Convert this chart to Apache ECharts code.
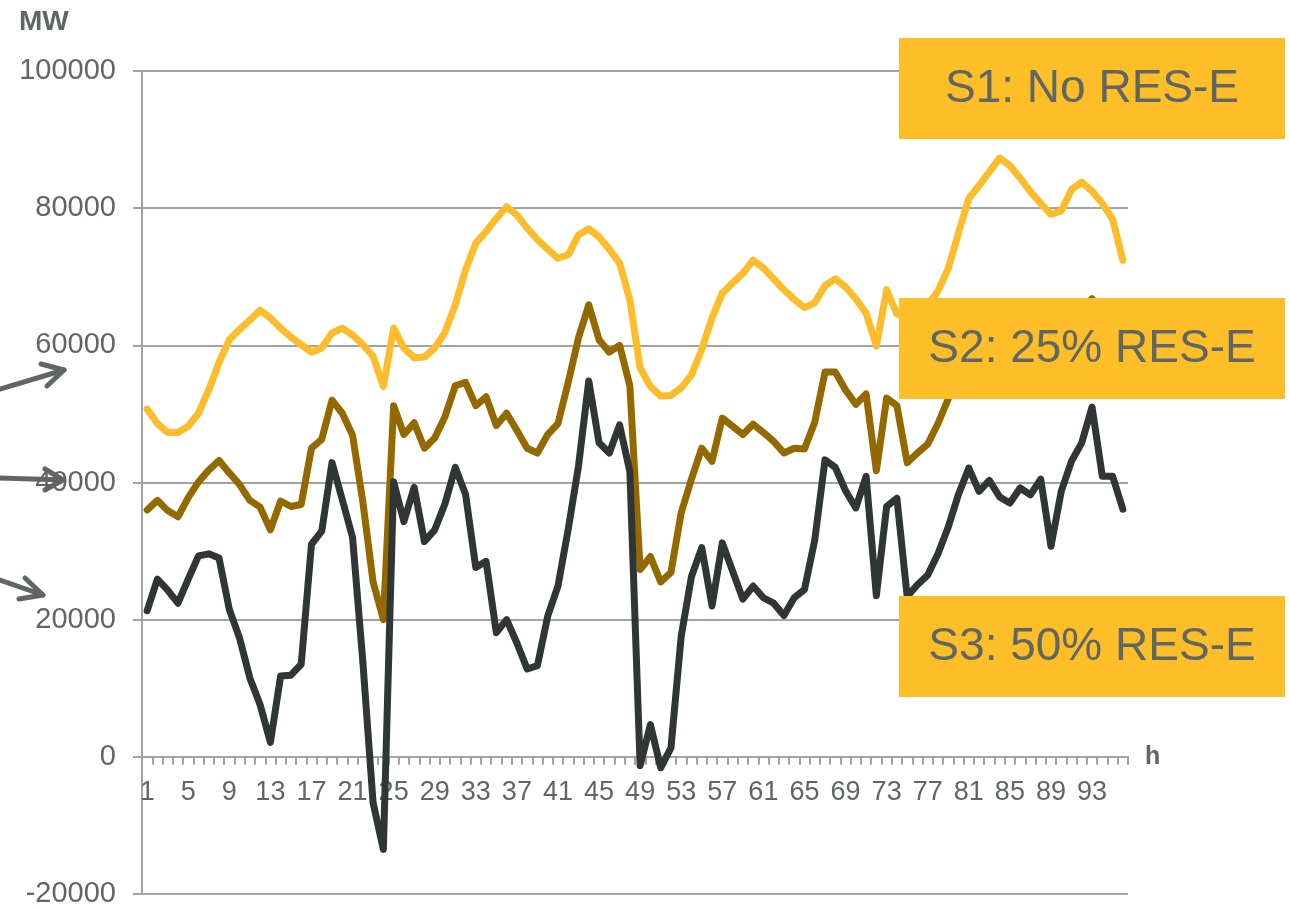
<!DOCTYPE html>
<html>
<head>
<meta charset="utf-8">
<script src="https://cdn.jsdelivr.net/npm/echarts@6/dist/echarts.min.js"></script>
<style>
  html, body { margin: 0; padding: 0; background: #fff; }
  #main { width: 1290px; height: 908px; }
</style>
</head>
<body>
<div id="main"></div>
<script>
var hours = ['1','2','3','4','5','6','7','8','9','10','11','12','13','14','15','16',
  '17','18','19','20','21','22','23','24','25','26','27','28','29','30','31','32',
  '33','34','35','36','37','38','39','40','41','42','43','44','45','46','47','48',
  '49','50','51','52','53','54','55','56','57','58','59','60','61','62','63','64',
  '65','66','67','68','69','70','71','72','73','74','75','76','77','78','79','80',
  '81','82','83','84','85','86','87','88','89','90','91','92','93','94','95','96'];

// S1: No RES-E
var s1 = [50700,48600,47300,47300,48200,50100,53500,57500,60800,62300,63700,65100,
  64000,62500,61200,60100,59000,59600,61800,62500,61500,60100,58400,54000,
  62500,59600,58200,58300,59600,61900,65900,71000,74900,76600,78500,80200,
  79000,77100,75400,74000,72700,73200,76100,77000,75800,74000,72000,66600,
  56700,54000,52600,52700,53800,55700,59400,64000,67600,69100,70500,72400,
  71300,69700,68100,66700,65500,66200,68700,69700,68500,66800,64700,59900,
  68100,64600,64000,64600,65900,67900,71200,76400,81400,83300,85300,87300,
  86200,84400,82400,80700,79100,79600,82700,83800,82500,80700,78400,72400];

// S2: 25% RES-E
var s2 = [36000,37400,35900,35000,37800,40100,41800,43200,41400,39700,37400,36400,
  33100,37300,36500,36800,45000,46300,52000,50100,46900,37200,25500,20000,
  51200,47000,48700,45000,46500,49600,54100,54600,51200,52500,48300,50100,
  47600,45000,44300,47000,48600,54600,61100,65900,60800,59000,60000,54100,
  27300,29200,25500,26900,35600,40500,45000,43100,49400,48200,47000,48500,
  47300,46000,44300,45000,44900,48800,56100,56100,53500,51400,52900,41700,
  52300,51200,42900,44300,45600,48600,52200,57300,61700,61000,62800,62600,
  61600,61800,60300,60600,54900,59200,62900,64800,66800,60800,59700,54200];

// S3: 50% RES-E
var s3 = [21300,25900,24300,22400,25900,29300,29600,29000,21500,17300,11500,7600,
  2100,11800,11900,13500,31000,32900,42900,37500,32000,13900,-6700,-13500,
  40100,34300,39300,31400,33100,36900,42200,38300,27600,28500,18100,20000,
  16600,12800,13300,20500,24900,33200,42400,54800,45800,44300,48400,41600,
  -1300,4700,-1600,1300,17600,26300,30500,22000,31200,27100,23000,24900,
  23200,22400,20600,23200,24400,31600,43300,42200,38800,36300,40900,23500,
  36500,37700,23400,25100,26500,29600,33500,38300,42100,38700,40300,37900,
  37000,39200,38200,40500,30700,38700,43100,45800,51000,40900,40900,36100];

var seriesNames = ['S1: No RES-E', 'S2: 25% RES-E', 'S3: 50% RES-E'];
var seriesColors = ['#FDBC2A', '#946A00', '#303536'];

var yMin = -20000, yMax = 100000, yStep = 20000;

var gray = '#5F6664';
var gridGray = '#A3A3A3';
var boxColor = '#FDBE28';
var font = '"Liberation Sans", Arial, sans-serif';

var gridTop = 71, gridBottom = 14, chartH = 908;
// move the category axis up to the zero line
var plotH = chartH - gridTop - gridBottom;
var zeroShift = -plotH * (0 - yMin) / (yMax - yMin);

var myChart = echarts.init(document.getElementById('main'), null, { renderer: 'canvas' });

function arrow(points, barbs) {
  return [
    { type: 'polyline', z: 50, shape: { points: points },
      style: { stroke: gray, lineWidth: 5, lineCap: 'round', fill: null } },
    { type: 'polyline', z: 50, shape: { points: barbs },
      style: { stroke: gray, lineWidth: 5, lineCap: 'round', lineJoin: 'round', fill: null } }
  ];
}

function labelBox(top, text) {
  return [
    { type: 'rect', z: 60, shape: { x: 899, y: top, width: 386, height: 101 },
      style: { fill: boxColor } },
    { type: 'text', z: 61, x: 1092, y: top + 51,
      style: { text: text, fill: gray, font: '46px ' + font,
        textAlign: 'center', textVerticalAlign: 'middle' } }
  ];
}

var graphics = []
  .concat(arrow([[0, 389], [64, 370]], [[41, 364], [64, 370], [47, 386]]))
  .concat(arrow([[0, 478], [63, 480]], [[45, 469], [63, 480], [45, 490]]))
  .concat(arrow([[0, 580], [43, 595]], [[25, 578], [43, 595], [19, 599]]))
  .concat(labelBox(38, seriesNames[0]))
  .concat(labelBox(298, seriesNames[1]))
  .concat(labelBox(596, seriesNames[2]))
  .concat([{ type: 'text', z: 61, x: 19, y: 22,
    style: { text: 'MW', fill: gray, font: 'bold 28px ' + font,
      textAlign: 'left', textVerticalAlign: 'middle' } }]);

var option = {
  animation: false,
  backgroundColor: '#fff',
  grid: { left: 142, right: 162, top: gridTop, bottom: gridBottom,
    containLabel: false, outerBoundsMode: 'none' },
  xAxis: {
    type: 'category',
    data: hours,
    boundaryGap: true,
    position: 'bottom',
    offset: zeroShift,
    name: 'h',
    nameLocation: 'end',
    nameGap: 17,
    nameTextStyle: { color: gray, fontFamily: font, fontSize: 25, fontWeight: 'bold',
      align: 'left', verticalAlign: 'middle', padding: [10, 0, 0, 0] },
    axisLine: { show: true, onZero: false, lineStyle: { color: gridGray, width: 2 } },
    axisTick: { show: true, interval: 0, length: 8, inside: false,
      lineStyle: { color: gridGray, width: 2 } },
    axisLabel: { interval: 3, color: gray, fontFamily: font, fontSize: 27, margin: 22 },
    splitLine: { show: false }
  },
  yAxis: {
    type: 'value',
    min: yMin,
    max: yMax,
    interval: yStep,
    axisLine: { show: true, lineStyle: { color: gridGray, width: 2 } },
    axisTick: { show: true, length: 9, lineStyle: { color: gridGray, width: 2 } },
    axisLabel: { color: gray, fontFamily: font, fontSize: 29, margin: 26,
      formatter: function (v) { return String(v); } },
    splitLine: { show: true, lineStyle: { color: gridGray, width: 2 } }
  },
  series: [s1, s2, s3].map(function (d, i) {
    return {
      name: seriesNames[i],
      type: 'line',
      data: d,
      symbol: 'none',
      z: 10 + i,
      lineStyle: { color: seriesColors[i], width: 7, cap: 'round', join: 'round' },
      itemStyle: { color: seriesColors[i] }
    };
  }),
  graphic: graphics
};

myChart.setOption(option);
window.onresize = myChart.resize;
</script>
</body>
</html>
